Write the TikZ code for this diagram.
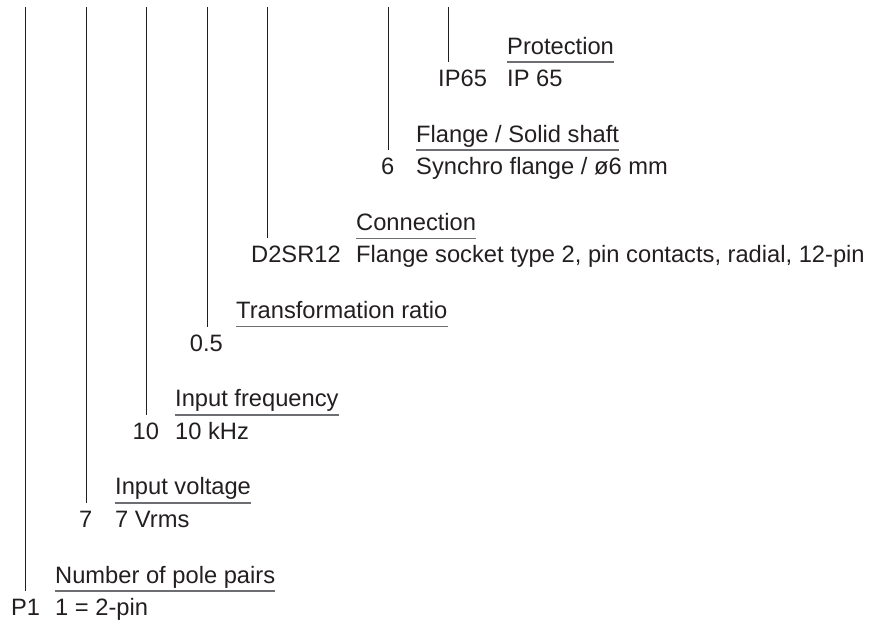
\documentclass[tikz,border=0pt]{standalone}
\usepackage{fontspec}
\setmainfont{Liberation Sans}
\definecolor{ink}{HTML}{231F20}
\definecolor{rulegray}{HTML}{6D6E71}
\tikzset{
  lbl/.style={inner sep=0pt, anchor=base west, text=ink, font=\fontsize{23.7pt}{28pt}\selectfont},
  leader/.style={draw=ink, line width=0.9pt},
  uline/.style={draw=rulegray, line width=1.6pt},
}
\begin{document}
\begin{tikzpicture}[x=1pt,y=-1pt]
\useasboundingbox (0,0) rectangle (875,622);
% P1
\coordinate (t1) at (25.7,7);
\coordinate (b1) at (25.7,591);
\draw[leader] (t1) -- (b1);
\node[lbl] (h1) at (55,583) {Number of pole pairs};
\draw[uline] ([yshift=-8pt]h1.base west) -- ([yshift=-8pt]h1.base east);
\node[lbl] (c1) at (10.8,615.5) {P1};
\node[lbl] (v1) at (55,615.5) {1 = 2-pin};
% 7
\coordinate (t2) at (86,7);
\coordinate (b2) at (86,502.8);
\draw[leader] (t2) -- (b2);
\node[lbl] (h2) at (115,494.8) {Input voltage};
\draw[uline] ([yshift=-8pt]h2.base west) -- ([yshift=-8pt]h2.base east);
\node[lbl] (c2) at (79,527.3) {7};
\node[lbl] (v2) at (115,527.3) {7 Vrms};
% 10
\coordinate (t3) at (146.5,7);
\coordinate (b3) at (146.5,414.7);
\draw[leader] (t3) -- (b3);
\node[lbl] (h3) at (175,406.7) {Input frequency};
\draw[uline] ([yshift=-8pt]h3.base west) -- ([yshift=-8pt]h3.base east);
\node[lbl] (c3) at (132.4,439.2) {10};
\node[lbl] (v3) at (175,439.2) {10 kHz};
% 0.5
\coordinate (t4) at (207,7);
\coordinate (b4) at (207,326.5);
\draw[leader] (t4) -- (b4);
\node[lbl] (h4) at (236,318.5) {Transformation ratio};
\draw[uline] ([yshift=-8pt]h4.base west) -- ([yshift=-8pt]h4.base east);
\node[lbl] (c4) at (189.7,351) {0.5};
% D2SR12
\coordinate (t5) at (267,7);
\coordinate (b5) at (267,238.3);
\draw[leader] (t5) -- (b5);
\node[lbl] (h5) at (356,230.3) {Connection};
\draw[uline] ([yshift=-8pt]h5.base west) -- ([yshift=-8pt]h5.base east);
\node[lbl] (c5) at (251,262.8) {D2SR12};
\node[lbl] (v5) at (356,262.8) {Flange socket type 2, pin contacts, radial, 12-pin};
% 6
\coordinate (t6) at (388,7);
\coordinate (b6) at (388,150.2);
\draw[leader] (t6) -- (b6);
\node[lbl] (h6) at (416,142.2) {Flange / Solid shaft};
\draw[uline] ([yshift=-8pt]h6.base west) -- ([yshift=-8pt]h6.base east);
\node[lbl] (c6) at (381,174.7) {6};
\node[lbl] (v6) at (416,174.7) {Synchro flange / ø6 mm};
% IP65
\coordinate (t7) at (448.5,7);
\coordinate (b7) at (448.5,62);
\draw[leader] (t7) -- (b7);
\node[lbl] (h7) at (507,54) {Protection};
\draw[uline] ([yshift=-8pt]h7.base west) -- ([yshift=-8pt]h7.base east);
\node[lbl] (c7) at (438,86.5) {IP65};
\node[lbl] (v7) at (507,86.5) {IP 65};
\end{tikzpicture}
\end{document}
